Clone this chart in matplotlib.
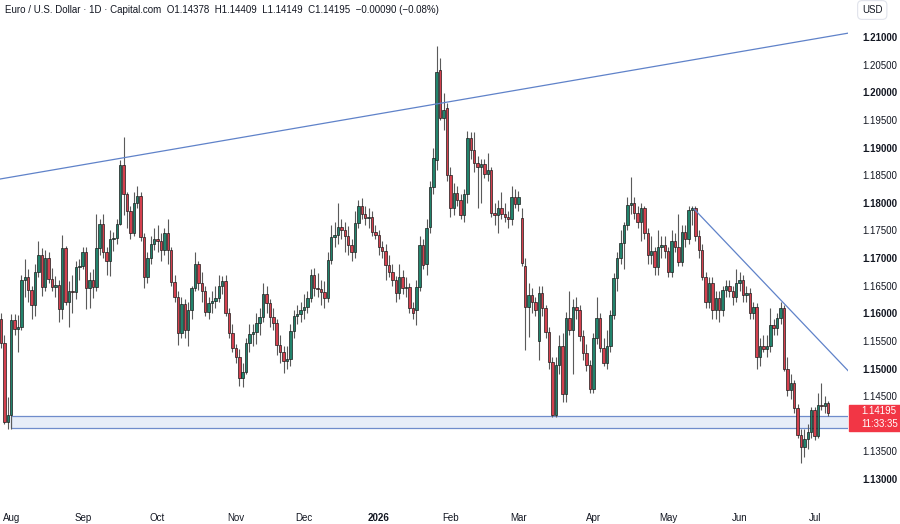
import numpy as np
import pandas as pd
import matplotlib
matplotlib.use('Agg')
import matplotlib.pyplot as plt
from matplotlib.patches import Rectangle

# EUR/USD daily candles, Jul 29 2025 .. Jul 7 2026
opens = [1.1590, 1.1546, 1.1404, 1.1415, 1.1588, 1.1572, 1.1576, 1.1660, 1.1666, 1.1642,
         1.1615, 1.1674, 1.1705, 1.1648, 1.1700, 1.1662, 1.1648, 1.1651, 1.1608, 1.1718,
         1.1620, 1.1640, 1.1638, 1.1683, 1.1686, 1.1710, 1.1645, 1.1660, 1.1648, 1.1718,
         1.1762, 1.1710, 1.1695, 1.1735, 1.1737, 1.1762, 1.1868, 1.1815, 1.1785, 1.1745,
         1.1800, 1.1812, 1.1738, 1.1665, 1.1700, 1.1725, 1.1735, 1.1730, 1.1715, 1.1745,
         1.1715, 1.1657, 1.1630, 1.1565, 1.1617, 1.1570, 1.1605, 1.1645, 1.1690, 1.1655,
         1.1640, 1.1602, 1.1618, 1.1622, 1.1628, 1.1650, 1.1658, 1.1600, 1.1565, 1.1537,
         1.1521, 1.1483, 1.1494, 1.1546, 1.1563, 1.1566, 1.1582, 1.1593, 1.1635, 1.1618,
         1.1593, 1.1582, 1.1543, 1.1530, 1.1514, 1.1518, 1.1568, 1.1595, 1.1598, 1.1605,
         1.1612, 1.1627, 1.1670, 1.1646, 1.1644, 1.1638, 1.1628, 1.1696, 1.1738, 1.1742,
         1.1756, 1.1750, 1.1740, 1.1724, 1.1710, 1.1763, 1.1795, 1.1780, 1.1772, 1.1774,
         1.1747, 1.1742, 1.1720, 1.1712, 1.1687, 1.1675, 1.1660, 1.1637, 1.1665, 1.1645,
         1.1648, 1.1610, 1.1606, 1.1648, 1.1724, 1.1690, 1.1756, 1.1828, 1.1877, 1.2040,
         1.1953, 1.1971, 1.1850, 1.1790, 1.1818, 1.1805, 1.1778, 1.1815, 1.1917, 1.1895,
         1.1872, 1.1865, 1.1870, 1.1852, 1.1860, 1.1782, 1.1778, 1.1790, 1.1780, 1.1775,
         1.1770, 1.1810, 1.1797, 1.1772, 1.1685, 1.1611, 1.1633, 1.1620, 1.1550, 1.1637,
         1.1610, 1.1566, 1.1512, 1.1416, 1.1506, 1.1541, 1.1453, 1.1592, 1.1570, 1.1611,
         1.1605, 1.1559, 1.1528, 1.1506, 1.1463, 1.1555, 1.1591, 1.1538, 1.1510, 1.1540,
         1.1597, 1.1664, 1.1700, 1.1727, 1.1760, 1.1796, 1.1800, 1.1782, 1.1766, 1.1790,
         1.1745, 1.1705, 1.1712, 1.1684, 1.1720, 1.1724, 1.1712, 1.1675, 1.1730, 1.1720,
         1.1693, 1.1747, 1.1735, 1.1787, 1.1790, 1.1740, 1.1715, 1.1666, 1.1620, 1.1655,
         1.1605, 1.1628, 1.1605, 1.1642, 1.1650, 1.1640, 1.1630, 1.1655, 1.1660, 1.1633,
         1.1637, 1.1600, 1.1612, 1.1521, 1.1541, 1.1535, 1.1540, 1.1579, 1.1573, 1.1592,
         1.1610, 1.1500, 1.1461, 1.1474, 1.1429, 1.1380, 1.1358, 1.1372, 1.1385, 1.1425,
         1.1378, 1.1434, 1.1432, 1.14378]
highs = [1.1600, 1.1560, 1.1448, 1.1599, 1.1598, 1.1597, 1.1670, 1.1699, 1.1680, 1.1650,
         1.1690, 1.1730, 1.1718, 1.1715, 1.1710, 1.1682, 1.1668, 1.1660, 1.1742, 1.1722,
         1.1658, 1.1670, 1.1695, 1.1698, 1.1720, 1.1720, 1.1675, 1.1680, 1.1780, 1.1770,
         1.1780, 1.1720, 1.1750, 1.1747, 1.1770, 1.1878, 1.1919, 1.1820, 1.1795, 1.1820,
         1.1830, 1.1820, 1.1745, 1.1710, 1.1740, 1.1755, 1.1760, 1.1745, 1.1755, 1.1770,
         1.1720, 1.1670, 1.1640, 1.1630, 1.1625, 1.1620, 1.1650, 1.1710, 1.1695, 1.1675,
         1.1650, 1.1630, 1.1640, 1.1650, 1.1670, 1.1668, 1.1670, 1.1610, 1.1580, 1.1545,
         1.1535, 1.1510, 1.1555, 1.1580, 1.1580, 1.1600, 1.1610, 1.1655, 1.1650, 1.1625,
         1.1610, 1.1590, 1.1560, 1.1540, 1.1540, 1.1580, 1.1605, 1.1615, 1.1620, 1.1635,
         1.1640, 1.1680, 1.1682, 1.1672, 1.1660, 1.1658, 1.1710, 1.1760, 1.1765, 1.1800,
         1.1770, 1.1765, 1.1758, 1.1735, 1.1785, 1.1805, 1.1808, 1.1795, 1.1790, 1.1785,
         1.1760, 1.1750, 1.1730, 1.1725, 1.1705, 1.1690, 1.1668, 1.1690, 1.1678, 1.1665,
         1.1655, 1.1620, 1.1660, 1.1740, 1.1735, 1.1770, 1.1840, 1.1900, 1.2084, 1.2062,
         1.1999, 1.1980, 1.1865, 1.1835, 1.1830, 1.1815, 1.1825, 1.1930, 1.1928, 1.1928,
         1.1885, 1.1880, 1.1880, 1.1890, 1.1865, 1.1800, 1.1805, 1.1820, 1.1800, 1.1785,
         1.1830, 1.1825, 1.1822, 1.1790, 1.1700, 1.1655, 1.1645, 1.1630, 1.1650, 1.1650,
         1.1615, 1.1575, 1.1520, 1.1520, 1.1560, 1.1565, 1.1602, 1.1640, 1.1625, 1.1630,
         1.1615, 1.1570, 1.1545, 1.1515, 1.1565, 1.1630, 1.1600, 1.1555, 1.1570, 1.1605,
         1.1672, 1.1710, 1.1750, 1.1765, 1.1810, 1.1847, 1.1810, 1.1795, 1.1800, 1.1795,
         1.1755, 1.1740, 1.1720, 1.1750, 1.1740, 1.1740, 1.1720, 1.1750, 1.1745, 1.1780,
         1.1760, 1.1760, 1.1795, 1.1795, 1.1795, 1.1750, 1.1725, 1.1675, 1.1665, 1.1665,
         1.1640, 1.1640, 1.1650, 1.1660, 1.1660, 1.1650, 1.1680, 1.1675, 1.1670, 1.1650,
         1.1645, 1.1620, 1.1618, 1.1555, 1.1560, 1.1560, 1.1610, 1.1590, 1.1600, 1.1620,
         1.1615, 1.1520, 1.1490, 1.1480, 1.1435, 1.1390, 1.1390, 1.1400, 1.1430, 1.1430,
         1.1455, 1.1474, 1.1450, 1.14409]
lows = [1.1538, 1.1400, 1.1391, 1.1391, 1.1560, 1.1530, 1.1570, 1.1630, 1.1620, 1.1590,
        1.1595, 1.1665, 1.1632, 1.1640, 1.1655, 1.1640, 1.1630, 1.1585, 1.1590, 1.1615,
        1.1575, 1.1600, 1.1625, 1.1660, 1.1680, 1.1608, 1.1610, 1.1628, 1.1640, 1.1705,
        1.1700, 1.1670, 1.1668, 1.1712, 1.1725, 1.1760, 1.1778, 1.1755, 1.1735, 1.1740,
        1.1790, 1.1730, 1.1645, 1.1655, 1.1690, 1.1715, 1.1710, 1.1695, 1.1705, 1.1690,
        1.1650, 1.1620, 1.1543, 1.1555, 1.1555, 1.1540, 1.1590, 1.1640, 1.1642, 1.1620,
        1.1595, 1.1590, 1.1600, 1.1610, 1.1620, 1.1635, 1.1595, 1.1555, 1.1530, 1.1510,
        1.1468, 1.1467, 1.1490, 1.1530, 1.1540, 1.1545, 1.1560, 1.1585, 1.1600, 1.1575,
        1.1570, 1.1525, 1.1510, 1.1492, 1.1500, 1.1505, 1.1555, 1.1580, 1.1585, 1.1590,
        1.1600, 1.1620, 1.1632, 1.1630, 1.1615, 1.1610, 1.1620, 1.1690, 1.1720, 1.1725,
        1.1735, 1.1710, 1.1705, 1.1695, 1.1700, 1.1755, 1.1770, 1.1760, 1.1755, 1.1740,
        1.1735, 1.1705, 1.1700, 1.1660, 1.1665, 1.1650, 1.1620, 1.1625, 1.1635, 1.1630,
        1.1600, 1.1590, 1.1579, 1.1640, 1.1680, 1.1670, 1.1745, 1.1815, 1.1860, 1.1950,
        1.1932, 1.1840, 1.1775, 1.1778, 1.1795, 1.1770, 1.1765, 1.1800, 1.1880, 1.1855,
        1.1790, 1.1800, 1.1845, 1.1840, 1.1775, 1.1760, 1.1745, 1.1770, 1.1765, 1.1755,
        1.1760, 1.1790, 1.1785, 1.1685, 1.1533, 1.1557, 1.1600, 1.1595, 1.1515, 1.1595,
        1.1555, 1.1500, 1.1412, 1.1412, 1.1490, 1.1440, 1.1440, 1.1560, 1.1490, 1.1590,
        1.1550, 1.1515, 1.1495, 1.1455, 1.1455, 1.1545, 1.1530, 1.1505, 1.1500, 1.1530,
        1.1590, 1.1640, 1.1690, 1.1680, 1.1750, 1.1780, 1.1770, 1.1755, 1.1730, 1.1735,
        1.1690, 1.1690, 1.1670, 1.1670, 1.1700, 1.1700, 1.1665, 1.1665, 1.1710, 1.1685,
        1.1685, 1.1720, 1.1725, 1.1760, 1.1730, 1.1700, 1.1660, 1.1610, 1.1610, 1.1590,
        1.1590, 1.1585, 1.1595, 1.1630, 1.1630, 1.1615, 1.1620, 1.1640, 1.1620, 1.1620,
        1.1590, 1.1590, 1.1500, 1.1505, 1.1530, 1.1520, 1.1530, 1.1560, 1.1560, 1.1580,
        1.1495, 1.1450, 1.1445, 1.1420, 1.1375, 1.1329, 1.1340, 1.1355, 1.1375, 1.1370,
        1.1375, 1.1425, 1.1420, 1.14149]
closes = [1.1546, 1.1404, 1.1415, 1.1588, 1.1572, 1.1576, 1.1660, 1.1666, 1.1642, 1.1615,
          1.1674, 1.1705, 1.1648, 1.1700, 1.1662, 1.1648, 1.1651, 1.1608, 1.1718, 1.1620,
          1.1640, 1.1638, 1.1683, 1.1686, 1.1710, 1.1645, 1.1660, 1.1648, 1.1718, 1.1762,
          1.1710, 1.1695, 1.1735, 1.1737, 1.1762, 1.1868, 1.1815, 1.1785, 1.1745, 1.1800,
          1.1812, 1.1738, 1.1665, 1.1700, 1.1725, 1.1735, 1.1730, 1.1715, 1.1745, 1.1715,
          1.1657, 1.1630, 1.1565, 1.1617, 1.1570, 1.1605, 1.1645, 1.1690, 1.1655, 1.1640,
          1.1602, 1.1618, 1.1622, 1.1628, 1.1650, 1.1658, 1.1600, 1.1565, 1.1537, 1.1521,
          1.1483, 1.1494, 1.1546, 1.1563, 1.1566, 1.1582, 1.1593, 1.1635, 1.1618, 1.1593,
          1.1582, 1.1543, 1.1530, 1.1514, 1.1518, 1.1568, 1.1595, 1.1598, 1.1605, 1.1612,
          1.1627, 1.1670, 1.1646, 1.1644, 1.1638, 1.1628, 1.1696, 1.1738, 1.1742, 1.1756,
          1.1750, 1.1740, 1.1724, 1.1710, 1.1763, 1.1795, 1.1780, 1.1772, 1.1774, 1.1747,
          1.1742, 1.1720, 1.1712, 1.1687, 1.1675, 1.1660, 1.1637, 1.1665, 1.1645, 1.1648,
          1.1610, 1.1600, 1.1648, 1.1724, 1.1687, 1.1754, 1.1829, 1.1881, 1.2037, 1.1953,
          1.1968, 1.1850, 1.1790, 1.1818, 1.1805, 1.1778, 1.1815, 1.1917, 1.1895, 1.1872,
          1.1865, 1.1870, 1.1852, 1.1860, 1.1782, 1.1778, 1.1790, 1.1780, 1.1775, 1.1770,
          1.1810, 1.1797, 1.1810, 1.1691, 1.1611, 1.1633, 1.1620, 1.1605, 1.1637, 1.1610,
          1.1566, 1.1512, 1.1416, 1.1506, 1.1541, 1.1453, 1.1592, 1.1570, 1.1611, 1.1605,
          1.1559, 1.1528, 1.1506, 1.1463, 1.1555, 1.1591, 1.1538, 1.1510, 1.1540, 1.1597,
          1.1664, 1.1700, 1.1727, 1.1760, 1.1796, 1.1800, 1.1782, 1.1766, 1.1790, 1.1745,
          1.1705, 1.1712, 1.1684, 1.1720, 1.1724, 1.1712, 1.1675, 1.1730, 1.1720, 1.1693,
          1.1747, 1.1735, 1.1787, 1.1790, 1.1740, 1.1715, 1.1666, 1.1620, 1.1655, 1.1605,
          1.1628, 1.1605, 1.1642, 1.1650, 1.1640, 1.1630, 1.1655, 1.1660, 1.1633, 1.1637,
          1.1600, 1.1612, 1.1521, 1.1541, 1.1535, 1.1540, 1.1579, 1.1573, 1.1592, 1.1610,
          1.1500, 1.1461, 1.1474, 1.1429, 1.1380, 1.1358, 1.1372, 1.1385, 1.1425, 1.1378,
          1.1434, 1.1432, 1.14378, 1.14195]

holidays = ['2025-12-25', '2026-01-01']
price_ticks = [1.130, 1.135, 1.145, 1.150, 1.155, 1.160, 1.165, 1.170, 1.175,
               1.180, 1.185, 1.190, 1.195, 1.200, 1.205, 1.210]

# drawings: support zone and two trend lines (bar index, price)
zone_low, zone_high, zone_start = 1.1392, 1.1414, 3
upper_line = [(36, 1.18814), (128, 1.19789)]
lower_line = [(203.6, 1.17887), (236, 1.15791)]

title = 'Euro / U.S. Dollar \u00b7 1D \u00b7 Capital.com'
ohlc_text = 'O1.14378  H1.14409  L1.14149  C1.14195  \u22120.00090 (\u22120.08%)'
last_price = '1.14195'
countdown = '11:33:35'

dates = pd.bdate_range('2025-07-29', '2026-07-07')
dates = dates[~dates.isin(pd.to_datetime(holidays))]

plt.rcParams['font.family'] = ['Liberation Sans', 'DejaVu Sans']
txt = '#131722'
W, H = 900, 524

fig = plt.figure(figsize=(9, 5.24), dpi=100)
ax = fig.add_axes([0, 19 / H, 848 / W, 505 / H])

o = np.array(opens)
c = np.array(closes)
x = np.arange(len(c))
up = c >= o
body = np.where(np.abs(c - o) < 0.00006, 0.00006 * np.where(up, 1, -1), c - o)
cols = np.where(up, '#22836c', '#d4404e')

ax.vlines(x, lows, highs, color='#5a5a5a', lw=0.8, zorder=2)
ax.bar(x, body, bottom=o, width=0.72, color=cols, edgecolor='#1b1b1b',
       linewidth=0.5, zorder=3)

# support zone
ax.add_patch(Rectangle((zone_start, zone_low), 400, zone_high - zone_low,
                       facecolor='#e7edf8', edgecolor='#6f8ccb', lw=0.9, zorder=1))

ax.axline(upper_line[0], upper_line[1], color='#5f82c9', lw=0.9, zorder=4)
(x1, y1), (x2, y2) = lower_line
slope = (y2 - y1) / (x2 - x1)
ax.plot([x1, 300], [y1, y1 + slope * (300 - x1)], color='#5f82c9', lw=0.9, zorder=4)

ax.set_xlim(-1 / 3.404, -1 / 3.404 + 848 / 3.404)
ax.set_ylim(1.21 - 468 / 5525, 1.21 + 37 / 5525)

# month ticks at first bar of each month
per = dates.to_period('M')
tick_pos, tick_lab = [], []
for p in per.unique()[1:]:
    tick_pos.append(int(np.where(per == p)[0][0]))
    tick_lab.append(str(p.year) if p.month == 1 else p.strftime('%b'))
ax.set_xticks(tick_pos)
ax.set_xticklabels(tick_lab, fontsize=7, color=txt)
for lab in ax.get_xticklabels():
    if lab.get_text().isdigit():
        lab.set_fontweight('bold')
ax.tick_params(axis='x', length=0, pad=6)

ax.yaxis.tick_right()
ax.set_yticks(price_ticks)
ax.set_yticklabels([f'{v:.5f}' for v in price_ticks], fontsize=7, color=txt)
for v, lab in zip(price_ticks, ax.get_yticklabels()):
    if round(v * 1000) % 10 == 0:
        lab.set_fontweight('bold')
ax.tick_params(axis='y', length=0, pad=10)

for s in ax.spines.values():
    s.set_visible(False)

# header
fig.text(5 / W, 1 - 10 / H, title + '  ' + ohlc_text, fontsize=7, color=txt, va='center')
fig.text(862 / W, 1 - 10 / H, 'USD', fontsize=7, color=txt, va='center',
         bbox=dict(boxstyle='round,pad=0.45', fc='white', ec='#e0e3eb', lw=0.8))

# last price label
fig.patches.append(Rectangle((849 / W, 1 - 431 / H), 51 / W, 26 / H,
                             transform=fig.transFigure, color='#f23645', zorder=5))
fig.text(861 / W, 1 - 411 / H, last_price, fontsize=7, color='white', va='center', zorder=6)
fig.text(861 / W, 1 - 424 / H, countdown, fontsize=7, color='white', va='center', zorder=6)

fig.savefig('out.png', dpi=100, facecolor='white')
